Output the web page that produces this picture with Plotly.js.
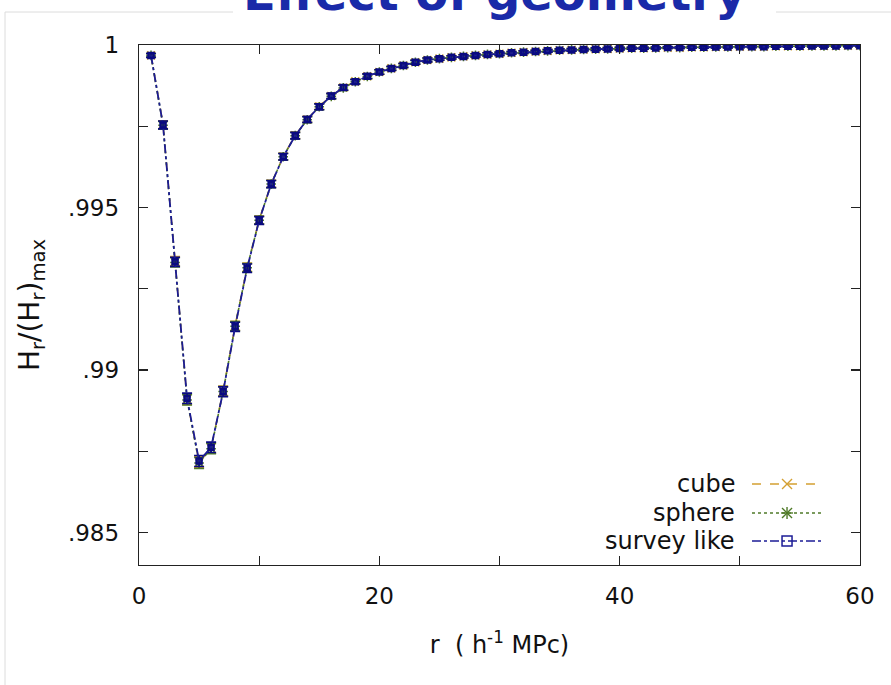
<!DOCTYPE html>
<html>
<head>
<meta charset="utf-8">
<script src="https://cdn.plot.ly/plotly-3.0.1.min.js"></script>
<style>html,body{margin:0;padding:0;background:#fff;}#chart{width:891px;height:685px;}</style>
</head>
<body>
<div id="chart"></div>
<script>
// ---- data ----
const r = [1,2,3,4,5,6,7,8,9,10,11,12,13,14,15,16,17,18,19,20,
           21,22,23,24,25,26,27,28,29,30,31,32,33,34,35,36,37,38,39,40,
           41,42,43,44,45,46,47,48,49,50,51,52,53,54,55,56,57,58,59,60];

const surveyLike = [0.99968,0.99754,0.99333,0.98913,0.98720,0.98762,0.98933,0.99133,0.99313,0.99460,
                    0.99572,0.99656,0.99721,0.99771,0.99810,0.99843,0.99869,0.99887,0.99904,0.99917,
                    0.99928,0.99937,0.99947,0.99954,0.99958,0.99962,0.99965,0.99968,0.99971,0.99973,
                    0.99976,0.99978,0.99980,0.99982,0.99984,0.99985,0.99986,0.99987,0.99988,0.99989,
                    0.99990,0.99990,0.99991,0.99992,0.99992,0.99993,0.99993,0.99994,0.99994,0.99995,
                    0.99995,0.99995,0.99996,0.99996,0.99996,0.99997,0.99997,0.99997,0.99998,0.99998];

const cube = [0.99968,0.99755,0.99335,0.98910,0.98716,0.98760,0.98936,0.99136,0.99316,0.99462,
              0.99573,0.99657,0.99722,0.99771,0.99811,0.99843,0.99869,0.99888,0.99904,0.99917,
              0.99928,0.99937,0.99947,0.99954,0.99958,0.99962,0.99965,0.99968,0.99971,0.99973,
              0.99976,0.99978,0.99980,0.99982,0.99984,0.99985,0.99986,0.99987,0.99988,0.99989,
              0.99990,0.99990,0.99991,0.99992,0.99992,0.99993,0.99993,0.99994,0.99994,0.99995,
              0.99995,0.99995,0.99996,0.99996,0.99996,0.99997,0.99997,0.99997,0.99998,0.99998];

const sphere = [0.99968,0.99753,0.99331,0.98908,0.98714,0.98758,0.98934,0.99135,0.99315,0.99461,
                0.99572,0.99656,0.99721,0.99770,0.99810,0.99842,0.99868,0.99887,0.99903,0.99917,
                0.99928,0.99937,0.99947,0.99954,0.99958,0.99962,0.99965,0.99968,0.99971,0.99973,
                0.99976,0.99978,0.99980,0.99982,0.99984,0.99985,0.99986,0.99987,0.99988,0.99989,
                0.99990,0.99990,0.99991,0.99992,0.99992,0.99993,0.99993,0.99994,0.99994,0.99995,
                0.99995,0.99995,0.99996,0.99996,0.99996,0.99997,0.99997,0.99997,0.99998,0.99998];

const errs = [0.00006,0.00012,0.00014,0.00016,0.00017,0.00016,0.00015,0.00014,0.00013,0.00012,
              0.00011,0.00010,0.00010,0.00009,0.00009,0.00008,0.00008,0.00007,0.00007,0.00007,
              0.00006,0.00006,0.00006,0.00006,0.00005,0.00005,0.00005,0.00005,0.00005,0.00005,
              0.00004,0.00004,0.00004,0.00004,0.00004,0.00004,0.00004,0.00004,0.00004,0.00004,
              0.00003,0.00003,0.00003,0.00003,0.00003,0.00003,0.00003,0.00003,0.00003,0.00003,
              0.00003,0.00003,0.00003,0.00003,0.00003,0.00003,0.00003,0.00003,0.00003,0.00003];

const seriesNames = ['cube','sphere','survey like'];
const xTickVals = [0,10,20,30,40,50,60];
const xTickText = ['0','','20','','40','','60'];
const yTickVals = [0.985,0.9875,0.99,0.9925,0.995,0.9975,1];
const yTickText = ['.985','','.99','','.995','','1'];

// ---- styles ----
const cCube = '#d4a032', cSphere = '#4f7a28', cSurvey = '#1c1c96';
const FONT = 'DejaVu Sans, sans-serif';

const traces = [
  {x:r, y:cube, name:seriesNames[0], type:'scatter', mode:'lines+markers',
   line:{color:cCube, width:1.6, dash:'dash'},
   marker:{symbol:'x-thin-open', size:8, color:cCube, line:{color:cCube, width:1.5}},
   error_y:{type:'data', array:errs, visible:true, color:cCube, thickness:1.5, width:5}},
  {x:r, y:sphere, name:seriesNames[1], type:'scatter', mode:'lines+markers',
   line:{color:cSphere, width:1.6, dash:'dot'},
   marker:{symbol:'asterisk-open', size:8, color:cSphere, line:{color:cSphere, width:1.5}},
   error_y:{type:'data', array:errs, visible:true, color:cSphere, thickness:1.5, width:5}},
  {x:r, y:surveyLike, name:seriesNames[2], type:'scatter', mode:'lines+markers',
   line:{color:cSurvey, width:1.8, dash:'dashdot'},
   marker:{symbol:'square-open', size:5, color:'#0a0a80', line:{color:'#0a0a80', width:2.5}},
   error_y:{type:'data', array:errs, visible:true, color:'#0a0a80', thickness:1.6, width:5}}
];

// legend (gnuplot style: text then sample), in paper coords
const legY = [0.1558, 0.1, 0.0462];
const legTextX = 0.8294, legX0 = 0.8502, legX1 = 0.9473, legMX = 0.8988;
const annotations = [];
const shapes = [];
const legColors = [cCube, cSphere, cSurvey];
const legDash = ['dash','dot','dashdot'];
for (let i = 0; i < 3; i++) {
  annotations.push({xref:'paper', yref:'paper', x:legTextX, y:legY[i], xanchor:'right', yanchor:'middle',
    text:seriesNames[i], showarrow:false, font:{family:FONT, size:24, color:'#111'}});
  shapes.push({type:'line', xref:'paper', yref:'paper', x0:legX0, x1:legX1, y0:legY[i], y1:legY[i],
    line:{color:legColors[i], width:1.6, dash:legDash[i]}});
}
function pxShape(type, ax, ay, x0, x1, y0, y1, color, w, fill) {
  const s = {type:type, xref:'paper', yref:'paper', xsizemode:'pixel', ysizemode:'pixel',
    xanchor:ax, yanchor:ay, x0:x0, x1:x1, y0:y0, y1:y1, line:{color:color, width:w}};
  if (fill) s.fillcolor = fill;
  return s;
}
// cube: x
shapes.push(pxShape('line', legMX, legY[0], -5, 5, -5, 5, cCube, 1.4));
shapes.push(pxShape('line', legMX, legY[0], -5, 5, 5, -5, cCube, 1.4));
// sphere: asterisk
shapes.push(pxShape('line', legMX, legY[1], -5, 5, -5, 5, cSphere, 1.4));
shapes.push(pxShape('line', legMX, legY[1], -5, 5, 5, -5, cSphere, 1.4));
shapes.push(pxShape('line', legMX, legY[1], -6, 6, 0, 0, cSphere, 1.4));
shapes.push(pxShape('line', legMX, legY[1], 0, 0, -6, 6, cSphere, 1.4));
// survey: open square
shapes.push(pxShape('rect', legMX, legY[2], -5, 5, -5, 5, cSurvey, 1.5, 'rgba(255,255,255,0)'));

// faint frame lines of the original screenshot
const frameCol = '#dcdcdc';
shapes.push({type:'line', xref:'paper', yref:'paper', x0:(5-139)/721, x1:(5-139)/721, y0:(565-12)/520, y1:(565-685)/520, line:{color:frameCol, width:1}});
shapes.push({type:'line', xref:'paper', yref:'paper', x0:(5-139)/721, x1:(233-139)/721, y0:(565-12)/520, y1:(565-12)/520, line:{color:frameCol, width:1}});
shapes.push({type:'line', xref:'paper', yref:'paper', x0:(776-139)/721, x1:(891-139)/721, y0:(565-12)/520, y1:(565-12)/520, line:{color:frameCol, width:1}});

// title (cut off at the top in the reference)
annotations.push({xref:'paper', yref:'paper', x:(494-139)/721, y:(565-23)/520, xanchor:'center', yanchor:'bottom',
  text:'<b>Effect of geometry</b>', showarrow:false, font:{family:FONT, size:48, color:'#1a2aa8'}});

const axisCommon = {showline:true, linecolor:'#222', linewidth:1.3, mirror:'allticks',
  ticks:'inside', ticklen:9, tickwidth:1.2, tickcolor:'#222', showgrid:false, zeroline:false,
  tickfont:{family:FONT, size:23, color:'#111'}};

const layout = {
  width:891, height:685,
  margin:{l:139, r:31, t:45, b:120},
  paper_bgcolor:'#fff', plot_bgcolor:'#fff',
  showlegend:false,
  xaxis:Object.assign({}, axisCommon, {range:[0,60], tickmode:'array', tickvals:xTickVals, ticktext:xTickText,
    ticklabelstandoff:10,
    title:{text:'r  ( h<sup>-1</sup> MPc)', font:{family:FONT, size:24, color:'#111'}, standoff:28}}),
  yaxis:Object.assign({}, axisCommon, {range:[0.984,1.0], tickmode:'array', tickvals:yTickVals, ticktext:yTickText,
    ticklabelstandoff:14,
    title:{text:'H<sub>r</sub>/(H<sub>r</sub>)<sub>max</sub>', font:{family:FONT, size:28, color:'#111'}, standoff:20}}),
  annotations:annotations,
  shapes:shapes
};

Plotly.newPlot('chart', traces, layout, {displayModeBar:false, staticPlot:true});
</script>
</body>
</html>
